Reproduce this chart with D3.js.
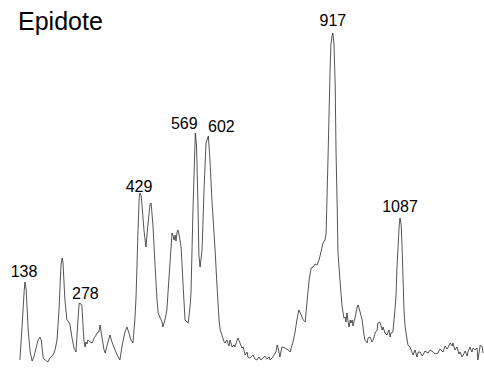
<!DOCTYPE html>
<html>
<head>
<meta charset="utf-8">
<script src="https://cdn.jsdelivr.net/npm/d3@7"></script>
<style>
  html, body { margin: 0; padding: 0; background: #fff; }
  svg { display: block; }
</style>
</head>
<body>
<svg id="chart" width="484" height="368"></svg>
<script>
const title = "Epidote";
const wavenumbers = [125,130,136,138,141,146,151,156,161,166,171,176,179,184,189,196,201,209,214,219,224,229,232,234,239,244,249,252,257,262,267,272,275,280,282,287,290,292,295,297,303,308,313,318,320,325,328,333,338,341,346,353,358,366,371,378,384,391,396,401,406,411,416,419,424,427,429,432,434,439,444,449,454,457,459,462,467,472,475,480,485,487,492,497,502,508,510,513,515,518,520,523,525,528,533,538,543,548,551,556,558,563,569,572,576,578,581,586,591,596,602,606,611,619,624,629,632,637,642,644,649,654,657,662,667,669,675,677,682,687,690,695,700,702,707,713,715,720,725,730,735,740,745,750,756,758,763,768,773,776,778,783,788,796,804,809,816,821,826,831,837,842,847,852,857,862,867,872,877,882,887,892,897,900,902,905,907,910,912,915,917,920,923,925,928,930,935,940,943,945,948,950,953,955,958,961,963,966,968,973,978,981,986,991,996,998,1004,1006,1011,1016,1019,1024,1029,1031,1036,1042,1044,1049,1054,1059,1062,1064,1069,1074,1077,1079,1082,1085,1087,1090,1092,1095,1097,1100,1105,1107,1112,1117,1120,1125,1130,1133,1138,1143,1145,1150,1158,1163,1171,1176,1183,1188,1196,1201,1206,1209,1214,1219,1221,1226,1231,1236,1239,1244,1247,1252,1257,1259,1264,1269,1272,1277,1282,1284,1290,1295,1297];
const intensities = [2,32,72,80,72,32,10,1,6,14,22,25,22,4,2,0,4,7,12,22,52,97,104,100,62,42,40,37,24,14,10,42,59,58,56,22,15,20,18,22,20,19,24,27,29,30,37,24,12,9,17,27,20,12,7,2,17,30,35,29,22,19,42,65,132,165,169,166,157,132,115,137,157,159,150,135,97,62,49,44,40,35,42,52,82,117,129,126,122,127,121,130,132,127,115,77,42,40,39,57,69,152,229,217,152,107,95,112,172,219,226,202,162,112,75,42,32,26,20,19,22,16,22,15,17,15,22,24,19,14,15,7,10,5,4,6,7,3,2,5,2,4,6,3,5,2,4,7,10,17,15,5,15,14,12,10,20,29,42,52,47,42,40,62,82,94,95,98,97,102,110,119,122,129,162,207,242,292,317,326,329,317,275,212,155,109,82,57,49,44,45,40,49,42,35,42,39,42,36,44,54,57,50,42,27,22,19,24,25,20,22,29,32,39,40,32,35,29,27,32,25,29,30,52,67,92,115,137,144,137,117,79,52,35,22,17,15,10,7,12,5,10,10,6,7,11,9,12,10,8,9,13,10,16,13,15,19,16,19,12,15,8,10,5,7,11,6,10,15,10,14,12,14,2,17,15,9];
const peakLabels = [138, 278, 429, 569, 602, 917, 1087];

// label nudges (layout only)
const labelDx = {138: -1, 278: 5, 429: -1, 569: -11, 602: 13, 917: 0, 1087: 0};
const labelDy = {138: 0, 278: 1, 429: 4, 569: 1, 602: 1, 917: -2, 1087: -1};

const svg = d3.select("#chart");
const x = d3.scaleLinear().domain([100, 1300]).range([10, 484.2]);
const y = d3.scaleLinear().domain([0, 330]).range([362, 32]);

const pts = wavenumbers.map((w, i) => [w, intensities[i]]);

svg.append("path")
  .datum(pts)
  .attr("fill", "none")
  .attr("stroke", "#2a2a2a")
  .attr("stroke-width", 0.8)
  .attr("stroke-linejoin", "round")
  .attr("d", d3.line().x(d => x(d[0])).y(d => y(d[1])));

svg.append("text")
  .attr("x", 18).attr("y", 30)
  .attr("font-family", "Liberation Sans, Arial, sans-serif")
  .attr("font-size", 25)
  .attr("fill", "#000")
  .text(title);

function peakHeight(w) {
  let best = 0;
  pts.forEach(p => { if (Math.abs(p[0] - w) <= 4 && p[1] > best) best = p[1]; });
  return best;
}

svg.selectAll("text.peak")
  .data(peakLabels)
  .enter().append("text")
  .attr("class", "peak")
  .attr("x", d => x(d) + labelDx[d])
  .attr("y", d => y(peakHeight(d)) - 5 + labelDy[d])
  .attr("text-anchor", "middle")
  .attr("font-family", "Liberation Sans, Arial, sans-serif")
  .attr("font-size", 16)
  .attr("fill", "#000")
  .text(d => d);
</script>
</body>
</html>
